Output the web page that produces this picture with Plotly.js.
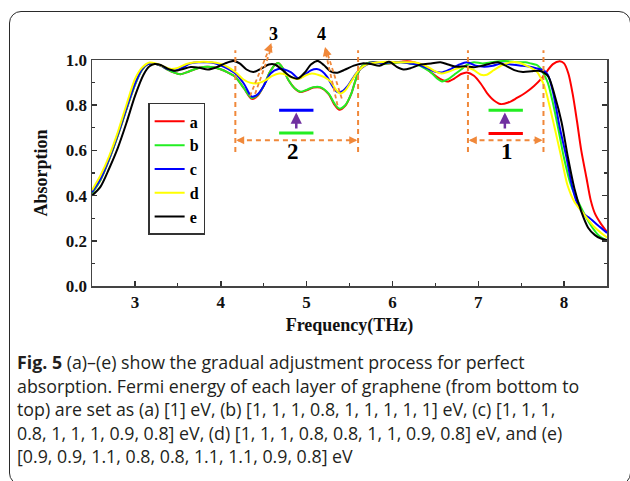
<!DOCTYPE html>
<html>
<head>
<meta charset="utf-8">
<script src="https://cdn.plot.ly/plotly-3.0.1.min.js"></script>
<style>
  html, body { margin: 0; padding: 0; background: #ffffff; }
  #wrap { position: relative; width: 630px; height: 481px; overflow: hidden; }
  #chart { position: absolute; left: 0; top: 0; width: 630px; height: 481px; }
  #frame { position: absolute; left: 9px; top: 11px; width: 620px; height: 472px;
           border: 1.8px solid #2a2a2a; border-radius: 12px; pointer-events: none; }
</style>
</head>
<body>
<div id="wrap">
  <div id="chart"></div>
  <div id="frame"></div>
</div>
<script>
// ---------------- data ----------------
const seriesNames = ['a', 'b', 'c', 'd', 'e'];
const seriesColors = ['#ff0000', '#22ee22', '#0000ff', '#ffff00', '#000000'];

const freqA = [2.5,2.6,2.7,2.8,2.9,3.0,3.08,3.15,3.22,3.3,3.38,3.45,3.53,3.6,3.68,3.76,3.84,3.92,3.99,4.08,4.17,4.27,4.36,4.43,4.5,4.57,4.63,4.67,4.72,4.79,4.86,4.93,5.0,5.08,5.16,5.26,5.32,5.38,5.45,5.52,5.57,5.63,5.7,5.78,5.86,5.94,6.02,6.1,6.17,6.25,6.35,6.45,6.55,6.64,6.72,6.8,6.87,6.95,7.03,7.1,7.18,7.26,7.35,7.45,7.55,7.65,7.73,7.8,7.87,7.95,8.0,8.05,8.1,8.15,8.2,8.26,8.31,8.36,8.43,8.5];
const absA  = [0.41,0.47,0.56,0.665,0.78,0.89,0.955,0.982,0.984,0.975,0.958,0.945,0.937,0.945,0.957,0.967,0.97,0.968,0.96,0.945,0.925,0.875,0.828,0.842,0.885,0.945,0.978,0.987,0.965,0.91,0.875,0.858,0.866,0.878,0.878,0.848,0.805,0.78,0.797,0.85,0.91,0.965,0.985,0.99,0.985,0.984,0.988,0.992,0.995,0.99,0.975,0.945,0.918,0.905,0.918,0.938,0.945,0.93,0.895,0.855,0.822,0.805,0.812,0.832,0.855,0.885,0.915,0.95,0.982,0.994,0.985,0.94,0.85,0.73,0.60,0.48,0.38,0.32,0.275,0.24];

const freqB = [2.5,2.6,2.7,2.8,2.9,3.0,3.08,3.15,3.22,3.3,3.38,3.45,3.53,3.6,3.68,3.76,3.84,3.92,3.99,4.08,4.17,4.27,4.36,4.43,4.5,4.57,4.63,4.67,4.72,4.79,4.86,4.93,5.0,5.08,5.16,5.26,5.32,5.38,5.45,5.52,5.57,5.63,5.7,5.78,5.86,5.94,6.02,6.1,6.2,6.3,6.38,6.45,6.52,6.58,6.65,6.72,6.8,6.87,6.95,7.05,7.15,7.25,7.35,7.46,7.55,7.61,7.68,7.72,7.76,7.81,7.87,7.93,8.0,8.08,8.2,8.31,8.4,8.5];
const absB  = [0.41,0.47,0.56,0.665,0.78,0.89,0.955,0.982,0.984,0.975,0.958,0.945,0.937,0.945,0.957,0.967,0.97,0.968,0.96,0.945,0.925,0.875,0.832,0.845,0.885,0.945,0.978,0.987,0.965,0.91,0.875,0.86,0.868,0.88,0.88,0.85,0.81,0.785,0.80,0.85,0.91,0.965,0.985,0.99,0.985,0.984,0.988,0.99,0.985,0.978,0.962,0.945,0.918,0.905,0.915,0.935,0.958,0.98,0.99,0.985,0.99,0.995,0.995,0.99,0.99,0.985,0.978,0.965,0.94,0.90,0.81,0.70,0.565,0.446,0.345,0.27,0.225,0.20];

const freqC = [2.5,2.6,2.7,2.8,2.9,3.0,3.08,3.15,3.22,3.3,3.38,3.47,3.56,3.64,3.74,3.84,3.92,3.99,4.08,4.17,4.27,4.36,4.43,4.5,4.58,4.67,4.74,4.82,4.91,4.98,5.05,5.12,5.18,5.24,5.3,5.36,5.42,5.48,5.54,5.6,5.68,5.78,5.88,5.98,6.1,6.2,6.3,6.4,6.5,6.58,6.68,6.78,6.87,6.97,7.07,7.17,7.27,7.38,7.5,7.6,7.69,7.76,7.81,7.87,7.95,8.03,8.1,8.17,8.24,8.29,8.39,8.5];
const absC  = [0.415,0.475,0.565,0.67,0.785,0.895,0.958,0.982,0.984,0.975,0.96,0.954,0.968,0.984,0.99,0.99,0.987,0.978,0.962,0.94,0.895,0.838,0.848,0.885,0.94,0.96,0.958,0.945,0.918,0.935,0.954,0.96,0.95,0.925,0.885,0.858,0.862,0.885,0.92,0.95,0.975,0.99,0.985,0.99,0.99,0.985,0.98,0.965,0.948,0.945,0.96,0.98,0.99,0.975,0.97,0.975,0.985,0.98,0.975,0.97,0.962,0.955,0.935,0.86,0.70,0.565,0.43,0.35,0.315,0.303,0.27,0.235];

const freqD = [2.5,2.6,2.7,2.8,2.9,3.0,3.08,3.17,3.25,3.33,3.42,3.5,3.6,3.7,3.8,3.9,3.98,4.05,4.17,4.26,4.34,4.43,4.52,4.6,4.68,4.76,4.84,4.91,4.98,5.06,5.13,5.2,5.28,5.34,5.39,5.45,5.52,5.59,5.66,5.75,5.85,5.95,6.05,6.15,6.25,6.35,6.43,6.5,6.57,6.65,6.75,6.85,6.95,7.03,7.1,7.18,7.28,7.38,7.48,7.56,7.63,7.69,7.73,7.77,7.81,7.89,7.97,8.04,8.12,8.24,8.35,8.43,8.5];
const absD  = [0.424,0.49,0.575,0.68,0.80,0.915,0.965,0.989,0.984,0.972,0.96,0.965,0.982,0.99,0.992,0.99,0.985,0.975,0.947,0.915,0.90,0.897,0.91,0.93,0.94,0.935,0.92,0.916,0.93,0.94,0.935,0.925,0.905,0.87,0.852,0.865,0.905,0.945,0.972,0.985,0.99,0.992,0.99,0.99,0.99,0.98,0.965,0.95,0.94,0.948,0.962,0.97,0.955,0.935,0.935,0.955,0.978,0.99,0.988,0.975,0.962,0.945,0.918,0.885,0.83,0.70,0.565,0.446,0.373,0.314,0.262,0.235,0.215];

const freqE = [2.5,2.6,2.7,2.8,2.9,3.0,3.1,3.17,3.23,3.3,3.38,3.47,3.56,3.65,3.75,3.85,3.95,4.05,4.15,4.22,4.3,4.38,4.47,4.56,4.63,4.72,4.82,4.9,4.98,5.05,5.13,5.2,5.28,5.36,5.45,5.55,5.65,5.75,5.85,5.96,6.05,6.13,6.22,6.33,6.45,6.56,6.65,6.74,6.85,6.95,7.05,7.15,7.23,7.32,7.42,7.52,7.62,7.7,7.76,7.82,7.89,7.97,8.04,8.12,8.2,8.28,8.36,8.43,8.5];
const absE  = [0.40,0.44,0.52,0.61,0.72,0.84,0.935,0.972,0.982,0.978,0.962,0.952,0.96,0.969,0.966,0.958,0.968,0.985,0.996,0.985,0.958,0.947,0.962,0.98,0.98,0.955,0.925,0.918,0.945,0.98,0.996,0.978,0.95,0.944,0.958,0.975,0.985,0.982,0.975,0.992,0.97,0.958,0.965,0.98,0.985,0.99,0.98,0.97,0.972,0.968,0.975,0.985,0.99,0.975,0.955,0.947,0.95,0.952,0.945,0.925,0.844,0.726,0.579,0.432,0.33,0.258,0.225,0.21,0.203];

const xTickVals = [3, 4, 5, 6, 7, 8];
const yTickVals = [0.0, 0.2, 0.4, 0.6, 0.8, 1.0];

// regions: [left, right, label]
const regions = [[4.17, 5.60, '2'], [6.88, 7.76, '1']];
const regionLabelX = [4.84, 7.33];
// level bars: [x0, x1, y, colour]
const levelBars = [[4.68, 5.08, 0.778, '#0000ff'], [4.68, 5.08, 0.677, '#22ee22'],
                   [7.12, 7.52, 0.778, '#22ee22'], [7.12, 7.52, 0.675, '#ff0000']];
const upArrows = [[4.88, 0.69, 0.768], [7.31, 0.69, 0.768]];

const caption = [
  '<b>Fig. 5</b> (a)–(e) show the gradual adjustment process for perfect',
  'absorption. Fermi energy of each layer of graphene (from bottom to',
  'top) are set as (a) [1] eV, (b) [1, 1, 1, 0.8, 1, 1, 1, 1, 1] eV, (c) [1, 1, 1,',
  '0.8, 1, 1, 1, 0.9, 0.8] eV, (d) [1, 1, 1, 0.8, 0.8, 1, 1, 0.9, 0.8] eV, and (e)',
  '[0.9, 0.9, 1.1, 0.8, 0.8, 1.1, 1.1, 0.9, 0.8] eV'
];

// ---------------- build ----------------
const xs = [freqA, freqB, freqC, freqD, freqE];
const ys = [absA, absB, absC, absD, absE];
const traces = seriesNames.map((n, i) => ({
  type: 'scatter', mode: 'lines', name: n, x: xs[i], y: ys[i],
  line: { color: seriesColors[i], width: 2, shape: 'spline', smoothing: 0.8 }
}));

const ORANGE = '#f0883a';
const serif = { family: 'Liberation Serif, Times New Roman, serif', color: '#111', weight: 'bold' };
const shapes = [];
const annotations = [];

regions.forEach((r, k) => {
  [r[0], r[1]].forEach(xv => shapes.push({ type: 'line', xref: 'x', yref: 'paper', x0: xv, x1: xv, y0: 0.593, y1: 1.043,
    line: { color: ORANGE, width: 2, dash: '5px,4px' } }));
  shapes.push({ type: 'line', xref: 'x', yref: 'y', x0: r[0] + 0.03, x1: r[1] - 0.03, y0: 0.645, y1: 0.645,
    line: { color: ORANGE, width: 2, dash: '5px,4px' } });
  annotations.push({ x: r[0] + 0.01, y: 0.645, xref: 'x', yref: 'y', text: '', showarrow: true, ax: 9, ay: 0,
    arrowcolor: ORANGE, arrowwidth: 2, arrowhead: 2, arrowsize: 0.8 });
  annotations.push({ x: r[1] - 0.01, y: 0.645, xref: 'x', yref: 'y', text: '', showarrow: true, ax: -9, ay: 0,
    arrowcolor: ORANGE, arrowwidth: 2, arrowhead: 2, arrowsize: 0.8 });
  annotations.push({ x: regionLabelX[k], y: 0.595, xref: 'x', yref: 'y', text: r[2], showarrow: false,
    xanchor: 'center', yanchor: 'middle', font: Object.assign({}, serif, { size: 23, color: '#000' }) });
});

levelBars.forEach(b => shapes.push({ type: 'line', xref: 'x', yref: 'y', x0: b[0], x1: b[1], y0: b[2], y1: b[2],
  line: { color: b[3], width: 3 } }));
upArrows.forEach(a => annotations.push({ x: a[0], y: a[2], ax: a[0], ay: a[1], xref: 'x', yref: 'y', axref: 'x', ayref: 'y',
  text: '', showarrow: true, arrowcolor: '#7030a0', arrowwidth: 2.5, arrowhead: 2, arrowsize: 0.9 }));

// pointer arrows 3 and 4 (double dashed shafts)
const pointers = [
  { lines: [[4.34, 0.84, 4.575, 1.06], [4.40, 0.85, 4.595, 1.06]], tip: [4.59, 1.075], ax: -3, ay: 8, label: '3', lx: 4.61, ly: 1.115 },
  { lines: [[5.36, 0.80, 5.215, 1.045], [5.41, 0.83, 5.23, 1.045]], tip: [5.215, 1.058], ax: 2, ay: 8, label: '4', lx: 5.17, ly: 1.115 }
];
pointers.forEach(p => {
  p.lines.forEach(l => shapes.push({ type: 'line', xref: 'x', yref: 'paper', x0: l[0], y0: l[1], x1: l[2], y1: l[3],
    line: { color: ORANGE, width: 1.8, dash: '4px,3px' } }));
  annotations.push({ x: p.tip[0], y: p.tip[1], xref: 'x', yref: 'paper', text: '', showarrow: true, ax: p.ax, ay: p.ay,
    arrowcolor: ORANGE, arrowwidth: 2, arrowhead: 2, arrowsize: 0.9 });
  annotations.push({ x: p.lx, y: p.ly, xref: 'x', yref: 'paper', text: p.label, showarrow: false,
    xanchor: 'center', yanchor: 'middle', font: Object.assign({}, serif, { size: 18, color: '#000' }) });
});

// caption lines
const capY = [-0.336, -0.442, -0.546, -0.650, -0.752];
caption.forEach((t, i) => annotations.push({ x: -0.1495, y: capY[i], xref: 'paper', yref: 'paper', xanchor: 'left', yanchor: 'middle',
  text: t, showarrow: false, align: 'left', font: { family: 'Open Sans, Noto Sans, sans-serif', size: 17.8, color: '#231f20' } }));

const layout = {
  width: 630, height: 481,
  margin: { l: 92, r: 23, t: 60, b: 195, pad: 0 },
  paper_bgcolor: '#ffffff', plot_bgcolor: '#ffffff',
  showlegend: true,
  legend: { x: 0.109, y: 0.81, xanchor: 'left', yanchor: 'top', bgcolor: '#ffffff', bordercolor: '#333', borderwidth: 1.5,
    font: Object.assign({}, serif, { size: 16, color: '#000' }), tracegroupgap: 0 },
  xaxis: {
    range: [2.5, 8.5], tickvals: xTickVals, ticks: 'inside', ticklen: 5, tickwidth: 1.5, tickcolor: '#333',
    showline: true, linecolor: '#444', linewidth: 1.5, mirror: true, showgrid: false, zeroline: false,
    minor: { tickvals: [3.5, 4.5, 5.5, 6.5, 7.5], ticks: 'inside', ticklen: 3, tickwidth: 1.2, tickcolor: '#333' },
    tickfont: Object.assign({}, serif, { size: 17, color: '#111' }),
    title: { text: 'Frequency(THz)', font: Object.assign({}, serif, { size: 18, color: '#111' }), standoff: 7 }
  },
  yaxis: {
    range: [0, 1], tickvals: yTickVals, tickformat: '.1f', ticks: 'inside', ticklen: 5, tickwidth: 1.5, tickcolor: '#333',
    showline: true, linecolor: '#444', linewidth: 1.5, mirror: 'ticks', showgrid: false, zeroline: false,
    minor: { tickvals: [0.1, 0.3, 0.5, 0.7, 0.9], ticks: 'inside', ticklen: 3, tickwidth: 1.2, tickcolor: '#333' },
    tickfont: Object.assign({}, serif, { size: 17, color: '#111' }),
    title: { text: 'Absorption', font: Object.assign({}, serif, { size: 18, color: '#111' }), standoff: 13 }
  },
  shapes: shapes,
  annotations: annotations
};

Plotly.newPlot('chart', traces, layout, { staticPlot: true, displayModeBar: false });
</script>
</body>
</html>
